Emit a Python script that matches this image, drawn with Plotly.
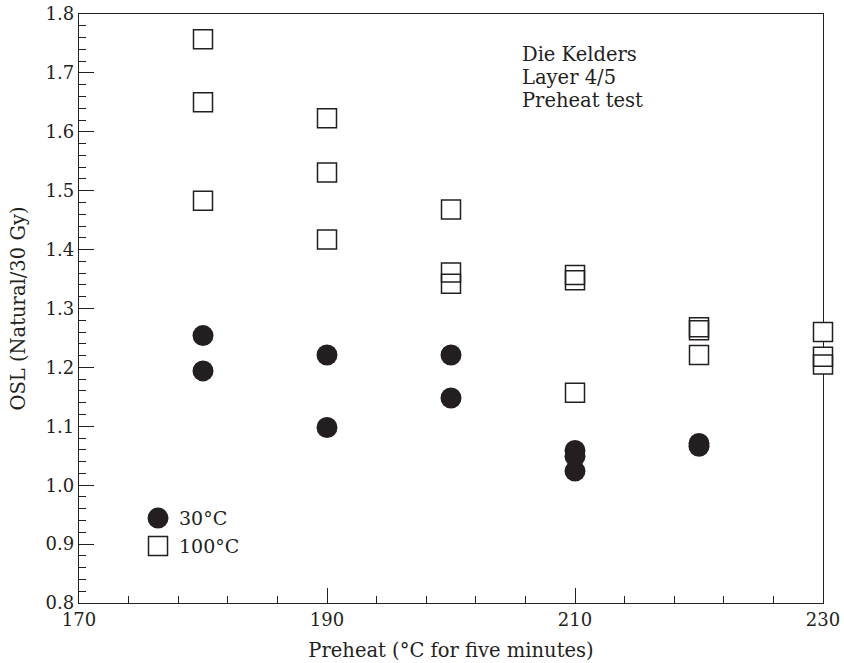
import plotly.graph_objects as go

# Preheat temperatures (°C, held for five minutes) and OSL ratios (Natural / 30 Gy)
x_30 = [180, 180, 190, 190, 200, 200, 210, 210, 210, 220, 220]
y_30 = [1.254, 1.194, 1.221, 1.098, 1.221, 1.148, 1.059, 1.049, 1.024, 1.071, 1.066]

x_100 = [180, 180, 180, 190, 190, 190, 200, 200, 200, 210, 210, 210, 220, 220, 220, 230, 230, 230]
y_100 = [1.757, 1.650, 1.483, 1.623, 1.531, 1.417, 1.468, 1.361, 1.342,
         1.357, 1.348, 1.157, 1.268, 1.263, 1.221, 1.260, 1.218, 1.205]

x_ticks = [170, 190, 210, 230]
y_ticks = [0.8, 0.9, 1.0, 1.1, 1.2, 1.3, 1.4, 1.5, 1.6, 1.7, 1.8]

note_lines = ["Die Kelders", "Layer 4/5", "Preheat test"]
legend_labels = ["30°C", "100°C"]

INK = "#231f20"
FONT = "DejaVu Serif"

fig = go.Figure()

# white backing for the open squares so axis lines don't show through them
fig.add_trace(go.Scatter(
    x=x_100, y=y_100, mode="markers", showlegend=False, cliponaxis=False,
    marker=dict(symbol="square", size=19, color="white", line=dict(width=0)),
    hoverinfo="skip",
))
fig.add_trace(go.Scatter(
    x=x_100, y=y_100, mode="markers", name=legend_labels[1], showlegend=False,
    cliponaxis=False,
    marker=dict(symbol="square-open", size=19, color=INK, line=dict(width=1.5, color=INK)),
))
fig.add_trace(go.Scatter(
    x=x_30, y=y_30, mode="markers", name=legend_labels[0], showlegend=False,
    cliponaxis=False,
    marker=dict(symbol="circle", size=21, color=INK, line=dict(width=0)),
))

# hand-drawn key in the lower-left corner
key_x = 0.1062
key_y = [0.1442, 0.0967]
fig.add_shape(type="circle", xref="paper", yref="paper", xsizemode="pixel", ysizemode="pixel",
              xanchor=key_x, yanchor=key_y[0], x0=-10.5, x1=10.5, y0=-10.5, y1=10.5,
              fillcolor=INK, line=dict(width=0))
fig.add_shape(type="rect", xref="paper", yref="paper", xsizemode="pixel", ysizemode="pixel",
              xanchor=key_x, yanchor=key_y[1], x0=-9.5, x1=9.5, y0=-9.5, y1=9.5,
              fillcolor="white", line=dict(width=1.5, color=INK))
for label, ky in zip(legend_labels, key_y):
    fig.add_annotation(x=key_x, y=ky, xref="paper", yref="paper", xshift=19,
                       text=label, showarrow=False, xanchor="left", yanchor="middle",
                       font=dict(family=FONT, size=19, color=INK))

# site / sample note, one line per annotation
note_y = [0.9313, 0.8923, 0.8533]
for line, ny in zip(note_lines, note_y):
    fig.add_annotation(x=0.5954, y=ny, xref="paper", yref="paper", xshift=-2,
                       text=line, showarrow=False, align="left",
                       xanchor="left", yanchor="middle",
                       font=dict(family=FONT, size=19.5, color=INK))

axis_common = dict(
    showline=True, linecolor=INK, linewidth=1.3, mirror=True,
    ticks="inside", tickcolor=INK, tickwidth=1, ticklen=15,
    showgrid=False, zeroline=False, layer="below traces", automargin=False,
    tickfont=dict(family=FONT, size=18, color=INK),
)

fig.update_xaxes(
    range=[170, 230], tickvals=x_ticks, ticktext=[str(v) for v in x_ticks],
    minor=dict(dtick=4, tick0=170, ticks="inside", ticklen=7, tickcolor=INK, tickwidth=1),
    title=dict(text="Preheat (°C for five minutes)", standoff=14,
               font=dict(family=FONT, size=19.5, color=INK)),
    **axis_common,
)
fig.update_yaxes(
    range=[0.8, 1.8], tickvals=y_ticks, ticktext=[f"{v:.1f}" for v in y_ticks],
    minor=dict(dtick=0.02, tick0=0.8, ticks="inside", ticklen=7, tickcolor=INK, tickwidth=1),
    title=dict(text="OSL (Natural/30 Gy)", standoff=14,
               font=dict(family=FONT, size=19.5, color=INK)),
    **axis_common,
)

fig.update_layout(
    width=844, height=663,
    margin=dict(l=79, r=21, t=14, b=60, pad=0),
    paper_bgcolor="white", plot_bgcolor="white",
    showlegend=False,
)

fig.write_html("out.html")
